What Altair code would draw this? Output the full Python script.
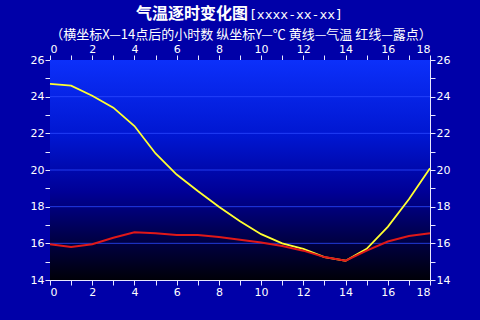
import altair as alt
import pandas as pd

hours = list(range(19))
temp = [24.7, 24.6, 24.05, 23.4, 22.4, 20.9, 19.75, 18.85, 18.0, 17.2, 16.5,
        16.0, 15.7, 15.25, 15.05, 15.7, 16.9, 18.4, 20.1]
dew = [15.95, 15.8, 15.95, 16.3, 16.6, 16.55, 16.45, 16.45, 16.35, 16.2, 16.05,
       15.85, 15.6, 15.25, 15.05, 15.6, 16.1, 16.4, 16.55]
grid_vals = [16, 18, 20, 22, 24]
x_ticks = list(range(0, 19))
y_ticks = list(range(14, 27))

W, H = 380, 220
df = pd.DataFrame({"h": hours, "temp": temp, "dew": dew})
gdf = pd.DataFrame({"g": grid_vals})

xs = alt.Scale(domain=[0, 18], nice=False, zero=False)
ys = alt.Scale(domain=[14, 26], nice=False, zero=False)

axis_common = dict(
    domainColor="#e8e8ff", tickColor="#e8e8ff", labelColor="#ffffff",
    labelFont="DejaVu Sans", labelFontSize=11, tickSize=5, grid=False,
    title=None, domainWidth=1, tickWidth=1, labelPadding=1,
)
xlab = "datum.value % 2 == 0 ? datum.value : ''"

bg = alt.Chart(pd.DataFrame({"a": [0]})).mark_rect(
    color=alt.LinearGradient(
        gradient="linear", x1=0, x2=0, y1=0, y2=1,
        stops=[alt.GradientStop(offset=0, color="#0c30fa"),
               alt.GradientStop(offset=0.35, color="#0016d0"),
               alt.GradientStop(offset=0.6, color="#000096"),
               alt.GradientStop(offset=0.8, color="#00004c"),
               alt.GradientStop(offset=1, color="#000008")]
    )
).encode(x=alt.value(0), x2=alt.value(W), y=alt.value(0), y2=alt.value(H))

grid = alt.Chart(gdf).mark_rule(color="#2a48ff", strokeWidth=1, opacity=0.8).encode(
    y=alt.Y("g:Q", scale=ys, axis=None)
)

line_t = alt.Chart(df).mark_line(color="#ffff30", strokeWidth=1.8).encode(
    x=alt.X("h:Q", scale=xs, axis=alt.Axis(orient="bottom", values=x_ticks, labelExpr=xlab, **axis_common)),
    y=alt.Y("temp:Q", scale=ys, axis=alt.Axis(orient="left", values=y_ticks, labelExpr=xlab, **axis_common)),
)
line_d = alt.Chart(df).mark_line(color="#e01818", strokeWidth=2).encode(
    x=alt.X("h:Q", scale=xs, axis=alt.Axis(orient="top", values=x_ticks, labelExpr=xlab, **axis_common)),
    y=alt.Y("dew:Q", scale=ys, axis=alt.Axis(orient="right", values=y_ticks, labelExpr=xlab, **axis_common)),
)

t1 = alt.Chart(pd.DataFrame({"t": ["气温逐时变化图"]})).mark_text(
    font="Noto Sans CJK SC", fontSize=16, fontWeight="bold", color="#ffffff", align="right", baseline="middle"
).encode(text="t:N", x=alt.value(198), y=alt.value(-46))
t2 = alt.Chart(pd.DataFrame({"t": ["[xxxx-xx-xx]"]})).mark_text(
    font="DejaVu Sans Mono", fontSize=13, color="#ffffff", align="left", baseline="middle"
).encode(text="t:N", x=alt.value(199), y=alt.value(-45))
t3 = alt.Chart(pd.DataFrame({"t": ["（横坐标X—14点后的小时数 纵坐标Y—℃ 黄线—气温 红线—露点）"]})).mark_text(
    font="Noto Sans CJK SC", fontSize=13, color="#ffffff", align="center", baseline="middle"
).encode(text="t:N", x=alt.value(191), y=alt.value(-25))

chart = alt.layer(bg, grid, line_t, line_d, t1, t2, t3).resolve_axis(
    x="independent", y="independent"
).properties(
    width=W, height=H, background="#0000a8",
    autosize=alt.AutoSizeParams(type="none"),
    padding={"left": 50, "top": 60, "right": 50, "bottom": 40},
).configure_view(stroke=None)

chart.save("out.html", embed_options={"renderer": "svg", "actions": False})
